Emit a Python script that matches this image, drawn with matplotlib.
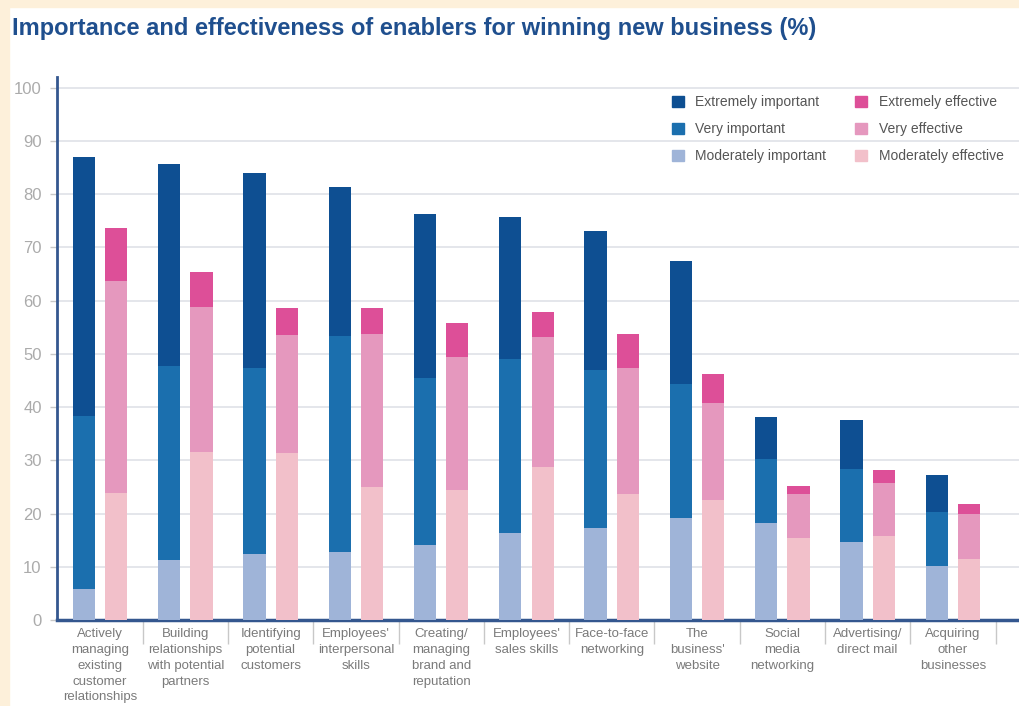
import numpy as np
import matplotlib
matplotlib.use("Agg")
import matplotlib.pyplot as plt
from matplotlib.patches import Rectangle, Patch

plt.rcParams['font.family'] = ['Liberation Sans', 'DejaVu Sans']

categories = ["Actively\nmanaging\nexisting\ncustomer\nrelationships",
              "Building\nrelationships\nwith potential\npartners",
              "Identifying\npotential\ncustomers",
              "Employees'\ninterpersonal\nskills",
              "Creating/\nmanaging\nbrand and\nreputation",
              "Employees'\nsales skills",
              "Face-to-face\nnetworking",
              "The\nbusiness'\nwebsite",
              "Social\nmedia\nnetworking",
              "Advertising/\ndirect mail",
              "Acquiring\nother\nbusinesses"]

# importance segments (%)
imp_moderate = [5.9, 11.2, 12.4, 12.7, 14.1, 16.4, 17.3, 19.1, 18.2, 14.7, 10.2]
imp_very = [32.4, 36.5, 35.0, 40.6, 31.4, 32.6, 29.7, 25.2, 12.1, 13.7, 10.1]
imp_extreme = [48.6, 38.0, 36.5, 28.0, 30.8, 26.7, 26.1, 23.2, 7.8, 9.2, 6.9]

# effectiveness segments (%)
eff_moderate = [23.9, 31.5, 31.4, 25.0, 24.5, 28.7, 23.7, 22.5, 15.4, 15.7, 11.4]
eff_very = [39.7, 27.3, 22.2, 28.8, 24.9, 24.4, 23.6, 18.2, 8.2, 10.0, 8.5]
eff_extreme = [10.0, 6.6, 5.0, 4.8, 6.3, 4.7, 6.5, 5.5, 1.6, 2.4, 1.9]

imp_labels = ["Extremely important", "Very important", "Moderately important"]
eff_labels = ["Extremely effective", "Very effective", "Moderately effective"]
imp_colors = ["#0e4f92", "#1b6fae", "#9fb4d8"]
eff_colors = ["#dd4f98", "#e598be", "#f2c0ca"]

cream = "#fdf0da"
axis_blue = "#34578f"
W, H = 1019, 706

fig = plt.figure(figsize=(W / 100, H / 100), dpi=100, facecolor="white")
# cream frame strips on top and left
fig.patches.append(Rectangle((0, 1 - 7 / H), 1, 7 / H, transform=fig.transFigure,
                             color=cream, zorder=0))
fig.patches.append(Rectangle((0, 0), 9 / W, 1, transform=fig.transFigure,
                             color=cream, zorder=0))

ax = fig.add_axes([57 / W, 86 / H, 1 - 57 / W, 543 / H])
x = np.arange(len(categories))
w = 0.26
off = 0.19

bottom = np.zeros(len(x))
for vals, col in zip([imp_moderate, imp_very, imp_extreme], imp_colors[::-1]):
    ax.bar(x - off, vals, w, bottom=bottom, color=col, zorder=3)
    bottom += np.array(vals)

bottom = np.zeros(len(x))
for vals, col in zip([eff_moderate, eff_very, eff_extreme], eff_colors[::-1]):
    ax.bar(x + off, vals, w, bottom=bottom, color=col, zorder=3)
    bottom += np.array(vals)

ax.set_ylim(0, 102)
ax.set_xlim(-0.505, 10.775)
ax.set_yticks(range(0, 101, 10))
ax.yaxis.grid(True, color="#dfe2e8", lw=1.2, zorder=0)
ax.tick_params(axis='y', colors="#c8c8c8", labelcolor="#ababab", labelsize=12,
               length=5, width=1, pad=6)

ax.set_xticks(x)
ax.set_xticklabels(categories, fontsize=9.5, color="#7a7a7a", linespacing=1.42, va='top')
ax.set_xticks(np.append(x[:-1] + 0.5, 10.5), minor=True)
ax.tick_params(axis='x', which='major', length=0, pad=6)
ax.tick_params(axis='x', which='minor', length=17, width=1, color="#c8c8c8")

for s in ['top', 'right']:
    ax.spines[s].set_visible(False)
ax.spines['left'].set_color(axis_blue)
ax.spines['left'].set_linewidth(2)
ax.spines['bottom'].set_color(axis_blue)
ax.spines['bottom'].set_linewidth(2.5)

handles = [Patch(color=c) for c in imp_colors] + [Patch(color=c) for c in eff_colors]
leg = ax.legend(handles, imp_labels + eff_labels, ncol=2, frameon=False,
                loc='upper left', bbox_to_anchor=(0.639, 0.967), fontsize=10,
                borderaxespad=0, borderpad=0,
                handlelength=0.85, handleheight=0.85, handletextpad=0.85,
                columnspacing=2.1, labelspacing=0.95, labelcolor="#555555")

title = fig.text(12 / W, 1 - 29 / H,
                 "Importance and effectiveness of enablers for winning new business (%)",
                 fontsize=18, fontweight='bold', color="#1f4f8e", va='center', ha='left')
# shrink title so it spans the same width as the reference (~803 px)
r = fig.canvas.get_renderer()
tw = title.get_window_extent(r).width
title.set_fontsize(18 * 803 / tw)

fig.savefig("out.png", dpi=100, facecolor=fig.get_facecolor())
